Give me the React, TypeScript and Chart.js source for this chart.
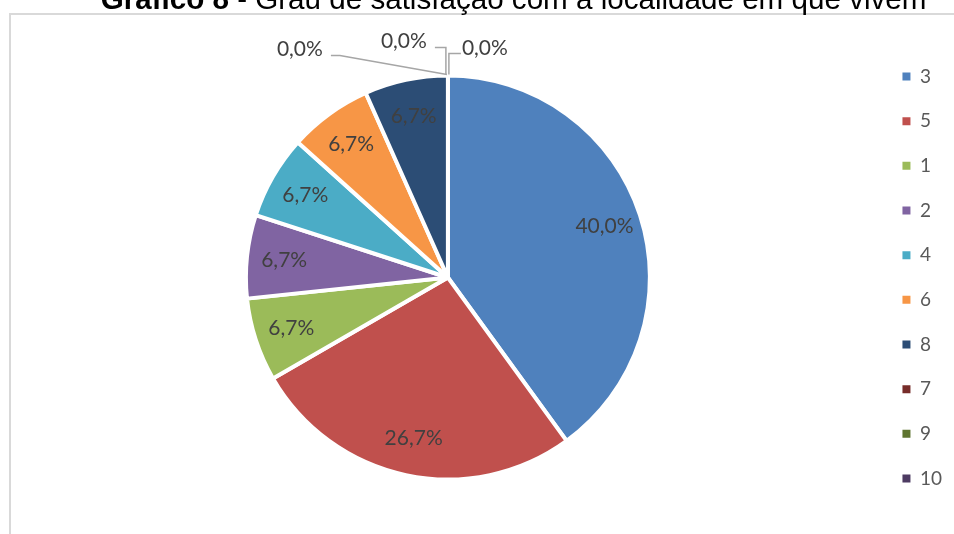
import React, { useEffect, useRef } from 'react';
import { Chart, registerables } from 'chart.js';

Chart.register(...registerables);

const categories = ['3', '5', '1', '2', '4', '6', '8', '7', '9', '10'];
const counts = [6, 4, 1, 1, 1, 1, 1, 0, 0, 0];
const colors = ['#4F81BD', '#C0504D', '#9BBB59', '#8064A2', '#4BACC6', '#F79646', '#2C4D75', '#772C2A', '#5F7530', '#4D3B62'];
const titleBold = 'Gráfico 8';
const titleRest = ' - Grau de satisfação com a localidade em que vivem';

// offsets of the zero-value labels / leader lines relative to the point where the slice touches the rim
const zeroLabelOffsets = [
  { tx: -148, ty: -26, line: [[-117, -20], [-108, -20], [-1, -1]] },
  { tx: -44, ty: -34, line: [[-13, -28], [-2, -28], [-2, -1]] },
  { tx: 37, ty: -27, line: [[13, -22], [1, -22], [1, -1]] },
];

const fmt = (v: number) => v.toFixed(1).replace('.', ',') + '%';

const overlay = {
  id: 'overlay',
  beforeDraw(chart: any) {
    const ctx = chart.ctx;
    ctx.save();
    ctx.strokeStyle = '#d9d9d9';
    ctx.lineWidth = 2;
    ctx.beginPath();
    ctx.moveTo(10, chart.height + 5);
    ctx.lineTo(10, 14);
    ctx.lineTo(chart.width + 5, 14);
    ctx.stroke();
    ctx.restore();
  },
  afterDraw(chart: any) {
    const ctx = chart.ctx;
    ctx.save();
    // title
    ctx.textBaseline = 'alphabetic';
    ctx.textAlign = 'left';
    ctx.fillStyle = '#000000';
    const size = 29.6;
    ctx.font = `bold ${size}px "Liberation Sans", Arial, sans-serif`;
    const wb = ctx.measureText(titleBold).width;
    ctx.font = `${size}px "Liberation Sans", Arial, sans-serif`;
    const wr = ctx.measureText(titleRest).width;
    const cx = 513.5;
    const x0 = cx - (wb + wr) / 2;
    ctx.font = `bold ${size}px "Liberation Sans", Arial, sans-serif`;
    ctx.fillText(titleBold, x0, 8.5);
    ctx.font = `${size}px "Liberation Sans", Arial, sans-serif`;
    ctx.fillText(titleRest, x0 + wb, 8.5);

    // data labels
    const meta = chart.getDatasetMeta(0);
    const data: number[] = chart.data.datasets[0].data;
    const total = data.reduce((a, b) => a + b, 0);
    ctx.font = '21px Lato, "Open Sans", sans-serif';
    ctx.fillStyle = '#404040';
    ctx.textAlign = 'center';
    ctx.textBaseline = 'middle';
    let zi = 0;
    meta.data.forEach((arc: any, i: number) => {
      const p = arc.getProps(['x', 'y', 'startAngle', 'endAngle', 'outerRadius'], true);
      const pct = (data[i] / total) * 100;
      const label = fmt(pct);
      if (data[i] > 0) {
        const mid = (p.startAngle + p.endAngle) / 2;
        const r = p.outerRadius * 0.815;
        ctx.fillText(label, p.x + Math.cos(mid) * r, p.y + Math.sin(mid) * r);
      } else {
        const o = zeroLabelOffsets[zi % zeroLabelOffsets.length];
        zi++;
        const rx = p.x + Math.cos(p.endAngle) * p.outerRadius;
        const ry = p.y + Math.sin(p.endAngle) * p.outerRadius;
        ctx.save();
        ctx.strokeStyle = '#a6a6a6';
        ctx.lineWidth = 1.5;
        ctx.beginPath();
        o.line.forEach(([dx, dy], k) => {
          if (k === 0) ctx.moveTo(rx + dx, ry + dy);
          else ctx.lineTo(rx + dx, ry + dy);
        });
        ctx.stroke();
        ctx.restore();
        ctx.fillText(label, rx + o.tx, ry + o.ty);
      }
    });
    ctx.restore();
  },
};

export default function App() {
  const ref = useRef<HTMLCanvasElement>(null);
  useEffect(() => {
    document.body.style.margin = '0';
    const canvas = ref.current!;
    const chart = new Chart(canvas, {
      type: 'pie',
      data: {
        labels: categories,
        datasets: [
          {
            data: counts,
            backgroundColor: colors,
            borderColor: '#ffffff',
            borderWidth: 4,
          },
        ],
      },
      options: {
        responsive: false,
        animation: false,
        radius: 202,
        layout: { padding: { left: 19, top: 21, right: 2, bottom: 0 } },
        plugins: {
          legend: {
            position: 'right',
            labels: {
              boxWidth: 8,
              boxHeight: 8,
              padding: 25.67,
              color: '#595959',
              font: { family: 'Lato', size: 19 },
              generateLabels: (chart: any) => {
                const items = Chart.overrides.pie.plugins.legend.labels.generateLabels(chart);
                return items.map((it: any) => ({ ...it, lineWidth: 0, strokeStyle: it.fillStyle }));
              },
            },
          },
          tooltip: { enabled: false },
          title: { display: false },
        },
      } as any,
      plugins: [overlay],
    });
    return () => chart.destroy();
  }, []);
  return (
    <div style={{ position: 'absolute', left: 0, top: 0, width: 954, height: 534, background: '#fff' }}>
      <canvas ref={ref} width={954} height={534} style={{ display: 'block', width: 954, height: 534 }} />
    </div>
  );
}
